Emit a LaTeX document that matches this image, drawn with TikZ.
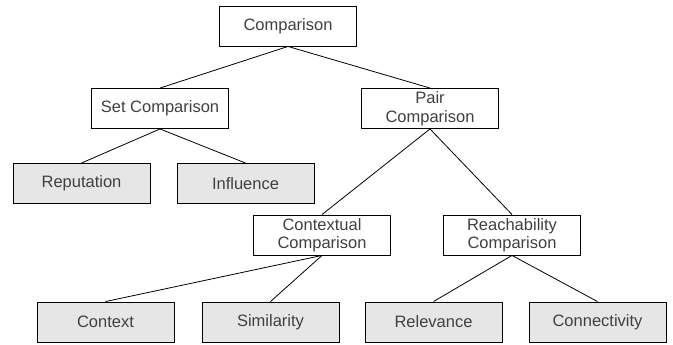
\documentclass[tikz,border=0pt]{standalone}
\usepackage{fontspec}
\setmainfont{Liberation Sans}
\usetikzlibrary{positioning}
\definecolor{textgray}{HTML}{404040}
\definecolor{leafgray}{HTML}{E6E6E6}

\begin{document}
\begin{tikzpicture}[
  x=1pt,y=-1pt,
  font=\fontsize{16.5}{18.5}\selectfont,
  box/.style={draw,line width=0.9pt,minimum width=137pt,minimum height=40pt,inner sep=2pt,align=center,text=textgray,fill=white},
  leaf/.style={box,fill=leafgray},
  link/.style={line width=0.8pt}
]
\useasboundingbox (0,0) rectangle (673,345);
\node[box] (comp) at (288,26) {Comparison};
\node[box] (setcomp) at (160,108.5) {Set Comparison};
\node[box] (paircomp) at (430,108.5) {Pair\\Comparison};
\node[leaf] (reputation) at (81.5,183.5) {Reputation};
\node[leaf] (influence) at (245.5,183.5) {Influence};
\node[box] (contextual) at (322,235) {Contextual\\Comparison};
\node[box] (reach) at (512,235) {Reachability\\Comparison};
\node[leaf] (context) at (105.5,322) {Context};
\node[leaf] (similarity) at (270.5,322) {Similarity};
\node[leaf] (relevance) at (433.5,322) {Relevance};
\node[leaf] (connectivity) at (597.5,322) {Connectivity};

\draw[link] (comp.south) -- (setcomp.north);
\draw[link] (comp.south) -- (paircomp.north);
\draw[link] (setcomp.south) -- (reputation.north);
\draw[link] (setcomp.south) -- (influence.north);
\draw[link] (paircomp.south) -- (contextual.north);
\draw[link] (paircomp.south) -- (reach.north);
\draw[link] (contextual.south) -- (context.north);
\draw[link] (contextual.south) -- (similarity.north);
\draw[link] (reach.south) -- (relevance.north);
\draw[link] (reach.south) -- (connectivity.north);
\end{tikzpicture}
\end{document}
